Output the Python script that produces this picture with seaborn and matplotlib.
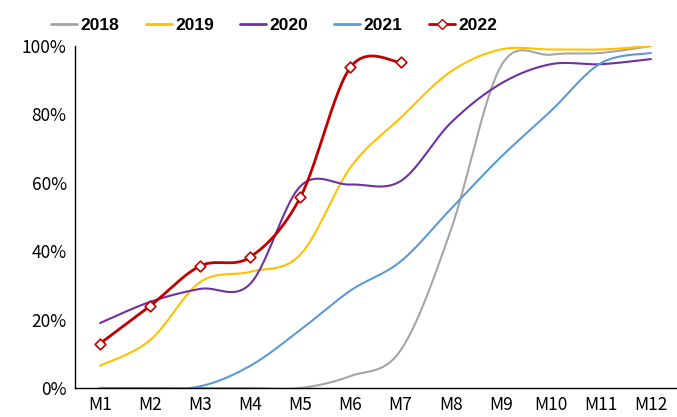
import matplotlib.pyplot as plt
import numpy as np
import pandas as pd
import seaborn as sns
from matplotlib.lines import Line2D

months = ["M1", "M2", "M3", "M4", "M5", "M6", "M7", "M8", "M9", "M10", "M11", "M12"]

y2018 = [0.0, 0.0, 0.0, 0.0, 0.0, 0.035, 0.11, 0.46, 0.94, 0.975, 0.98, 1.00]
y2019 = [0.065, 0.14, 0.31, 0.34, 0.39, 0.645, 0.79, 0.925, 0.99, 0.99, 0.99, 1.00]
y2020 = [0.19, 0.252, 0.29, 0.305, 0.59, 0.595, 0.605, 0.775, 0.89, 0.947, 0.947, 0.962]
y2021 = [0.0, 0.0, 0.005, 0.065, 0.17, 0.285, 0.37, 0.523, 0.675, 0.81, 0.95, 0.98]
y2022 = [0.13, 0.24, 0.357, 0.383, 0.558, 0.938, 0.953]

series = {"2018": y2018, "2019": y2019, "2020": y2020, "2021": y2021, "2022": y2022}
colors = {"2018": "#A5A5A5", "2019": "#FFC000", "2020": "#7030A0",
          "2021": "#5B9BD5", "2022": "#C00000"}


def smooth(vals, n=30):
    # Excel-style smoothed line: cubic Bezier through every point
    p = np.column_stack([np.arange(len(vals)), vals]).astype(float)
    pad = np.vstack([p[0], p, p[-1]])
    out = []
    for i in range(len(p) - 1):
        p0, p1, p2, p3 = pad[i], pad[i + 1], pad[i + 2], pad[i + 3]
        c1 = p1 + (p2 - p0) / 6
        c2 = p2 - (p3 - p1) / 6
        t = np.linspace(0, 1, n)[:, None]
        seg = ((1 - t) ** 3) * p1 + 3 * ((1 - t) ** 2) * t * c1 + 3 * (1 - t) * t ** 2 * c2 + t ** 3 * p2
        out.append(seg if i == 0 else seg[1:])
    return np.vstack(out)


rows = []
for name, vals in series.items():
    pts = smooth(vals)
    rows.append(pd.DataFrame({"x": pts[:, 0], "y": pts[:, 1], "year": name}))
curves = pd.concat(rows, ignore_index=True)

sns.set_style("white")
plt.rcParams["font.family"] = ["Noto Sans CJK SC", "DejaVu Sans"]
plt.rcParams["text.color"] = "black"
plt.rcParams["xtick.labelcolor"] = "black"
plt.rcParams["ytick.labelcolor"] = "black"

fig = plt.figure(figsize=(6.77, 4.17), dpi=100)
ax = fig.add_axes([0.1108, 0.0695, 0.8877, 0.820])

for name in series:
    lw = 2.0 if name == "2022" else 1.5
    sns.lineplot(data=curves[curves["year"] == name], x="x", y="y", color=colors[name],
                 linewidth=lw, sort=False, estimator=None, ax=ax, legend=False)

raw22 = pd.DataFrame({"x": np.arange(len(y2022)), "y": y2022})
sns.scatterplot(data=raw22, x="x", y="y", marker="D", s=30, facecolor="white",
                edgecolor=colors["2022"], linewidth=1.2, ax=ax, zorder=5, legend=False)

ax.set_xlim(-0.5, 11.5)
ax.set_ylim(0, 1)
ax.set_xticks(range(12))
ax.set_xticklabels(months)
ax.set_xticks(np.arange(-0.5, 12, 1), minor=True)
ax.tick_params(axis="x", which="major", length=0, labelsize=12.5, pad=6, labelcolor="black")
ax.tick_params(axis="x", which="minor", direction="in", length=5, width=1, color="black")
ax.set_yticks(np.arange(0, 1.01, 0.2))
ax.set_yticklabels([f"{int(v * 100)}%" for v in np.arange(0, 1.01, 0.2)])
ax.tick_params(axis="y", direction="in", length=5, width=1, color="black", labelsize=12.5,
               pad=6, labelcolor="black")
ax.set_xlabel("")
ax.set_ylabel("")
for s in ["top", "right"]:
    ax.spines[s].set_visible(False)
for s in ["left", "bottom"]:
    ax.spines[s].set_color("black")
    ax.spines[s].set_linewidth(1)

handles = []
for name in series:
    if name == "2022":
        h = Line2D([], [], color=colors[name], linewidth=2, marker="D", markersize=5.5,
                   markerfacecolor="white", markeredgecolor=colors[name])
    else:
        h = Line2D([], [], color=colors[name], linewidth=2)
    handles.append(h)
leg = fig.legend(handles, list(series.keys()), loc="center", bbox_to_anchor=(0.405, 0.938), ncol=5,
                 frameon=False, handlelength=1.5, handletextpad=0.2, columnspacing=1.5,
                 prop={"family": ["Liberation Sans", "DejaVu Sans"], "weight": "bold", "size": 12.5})
for t in leg.get_texts():
    t.set_color("black")

fig.savefig("out.png", dpi=100)
